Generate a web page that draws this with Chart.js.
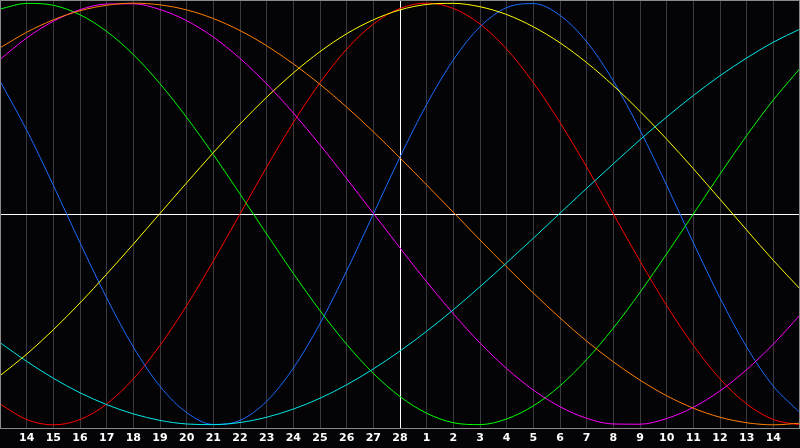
<!DOCTYPE html>
<html>
<head>
<meta charset="utf-8">
<script src="https://cdn.jsdelivr.net/npm/chart.js@4"></script>
<style>
  html, body { margin: 0; padding: 0; background: #040407; }
  #wrap { width: 800px; height: 448px; }
</style>
</head>
<body>
<div id="wrap"><canvas id="bioChart"></canvas></div>
<script>
// day labels, one per grid line (first and last sit on the edges and are not shown)
const days = ['13', '14', '15', '16', '17', '18', '19', '20', '21', '22', '23', '24', '25', '26', '27', '28',
              '1', '2', '3', '4', '5', '6', '7', '8', '9', '10', '11', '12', '13', '14', '15'];

const physical = [0.631, 0.398, 0.136, -0.136, -0.398, -0.631, -0.817, -0.942, -0.998, -0.979, -0.888, -0.731, -0.520, -0.270, 0.000, 0.270,
                  0.520, 0.731, 0.888, 0.979, 0.998, 0.942, 0.817, 0.631, 0.398, 0.136, -0.136, -0.398, -0.631, -0.817, -0.942];
const emotional = [-0.901, -0.975, -1.000, -0.975, -0.901, -0.782, -0.623, -0.434, -0.223, 0.000, 0.223, 0.434, 0.623, 0.782, 0.901, 0.975,
                   1.000, 0.975, 0.901, 0.782, 0.623, 0.434, 0.223, 0.000, -0.223, -0.434, -0.623, -0.782, -0.901, -0.975, -1.000];
const intellectual = [0.972, 0.999, 0.990, 0.945, 0.866, 0.756, 0.618, 0.458, 0.282, 0.095, -0.095, -0.282, -0.458, -0.618, -0.756, -0.866,
                      -0.945, -0.990, -0.999, -0.972, -0.910, -0.815, -0.690, -0.541, -0.372, -0.189, 0.000, 0.189, 0.372, 0.541, 0.690];
const intuitive = [0.733, 0.835, 0.914, 0.969, 0.996, 0.997, 0.970, 0.917, 0.839, 0.738, 0.617, 0.479, 0.328, 0.168, 0.003, -0.161,
                   -0.322, -0.473, -0.612, -0.733, -0.835, -0.914, -0.969, -0.996, -0.997, -0.970, -0.917, -0.839, -0.738, -0.617, -0.479];
const aesthetic = [-0.767, -0.665, -0.549, -0.422, -0.285, -0.143, 0.003, 0.148, 0.291, 0.427, 0.554, 0.669, 0.770, 0.855, 0.921, 0.968,
                   0.994, 0.999, 0.983, 0.946, 0.888, 0.812, 0.718, 0.609, 0.487, 0.355, 0.215, 0.070, -0.076, -0.220, -0.355];
const awareness = [0.788, 0.862, 0.921, 0.964, 0.990, 1.000, 0.992, 0.968, 0.927, 0.870, 0.798, 0.712, 0.615, 0.507, 0.390, 0.266,
                   0.138, 0.008, -0.123, -0.251, -0.375, -0.493, -0.603, -0.701, -0.788, -0.862, -0.921, -0.964, -0.990, -1.000, -0.992];
const spiritual = [-0.610, -0.699, -0.779, -0.848, -0.904, -0.948, -0.979, -0.996, -0.999, -0.989, -0.964, -0.925, -0.874, -0.810, -0.735, -0.650,
                   -0.556, -0.454, -0.345, -0.231, -0.115, 0.004, 0.122, 0.238, 0.352, 0.460, 0.562, 0.656, 0.740, 0.815, 0.877];

const centerIndex = 15;

const line = (label, data, color) => ({
    label: label,
    data: data,
    borderColor: color,
    borderWidth: 1,
    pointRadius: 0,
    cubicInterpolationMode: 'monotone',
    fill: false
});

// gray frame round the plot
const framePlugin = {
    id: 'frame',
    afterDraw(chart) {
        const a = chart.chartArea;
        const c = chart.ctx;
        c.save();
        c.strokeStyle = '#8a8a8a';
        c.lineWidth = 1;
        c.strokeRect(a.left + 0.5, a.top + 0.5, a.right - a.left - 1, a.bottom - a.top);
        c.restore();
    }
};

const ctx = document.getElementById('bioChart').getContext('2d');

const bioChart = new Chart(ctx, {
    type: 'line',
    data: {
        labels: days,
        datasets: [
            line('Spiritual', spiritual, '#00e8e8'),
            line('Awareness', awareness, '#ff8000'),
            line('Intuitive', intuitive, '#ff00ff'),
            line('Aesthetic', aesthetic, '#ffff00'),
            line('Intellectual', intellectual, '#00ff00'),
            line('Physical', physical, '#1a6cff'),
            line('Emotional', emotional, '#ff0000')
        ]
    },
    options: {
        responsive: true,
        maintainAspectRatio: false,
        animation: false,
        layout: { padding: 0 },
        plugins: {
            legend: { display: false },
            tooltip: { enabled: false }
        },
        scales: {
            x: {
                offset: false,
                border: { display: false },
                afterFit: (scale) => { scale.paddingLeft = 0; scale.paddingRight = 0; scale.height = 20; },
                grid: {
                    drawTicks: false,
                    lineWidth: 1,
                    color: (c) => c.index === centerIndex ? '#ffffff' : '#3a3a3e'
                },
                ticks: {
                    autoSkip: false,
                    maxRotation: 0,
                    padding: 4,
                    color: '#ffffff',
                    font: { family: 'DejaVu Sans', size: 11, weight: 'bold' },
                    callback: function (value, index) {
                        if (index === 0 || index === days.length - 1) return '';
                        return days[index];
                    }
                }
            },
            y: {
                min: -1.015,
                max: 1.015,
                border: { display: false },
                afterFit: (scale) => { scale.width = 0; },
                grid: {
                    drawTicks: false,
                    color: (c) => c.tick && c.tick.value === 0 ? '#ffffff' : 'rgba(0,0,0,0)'
                },
                ticks: { display: false, stepSize: 0.5 }
            }
        }
    },
    plugins: [framePlugin]
});
</script>
</body>
</html>
